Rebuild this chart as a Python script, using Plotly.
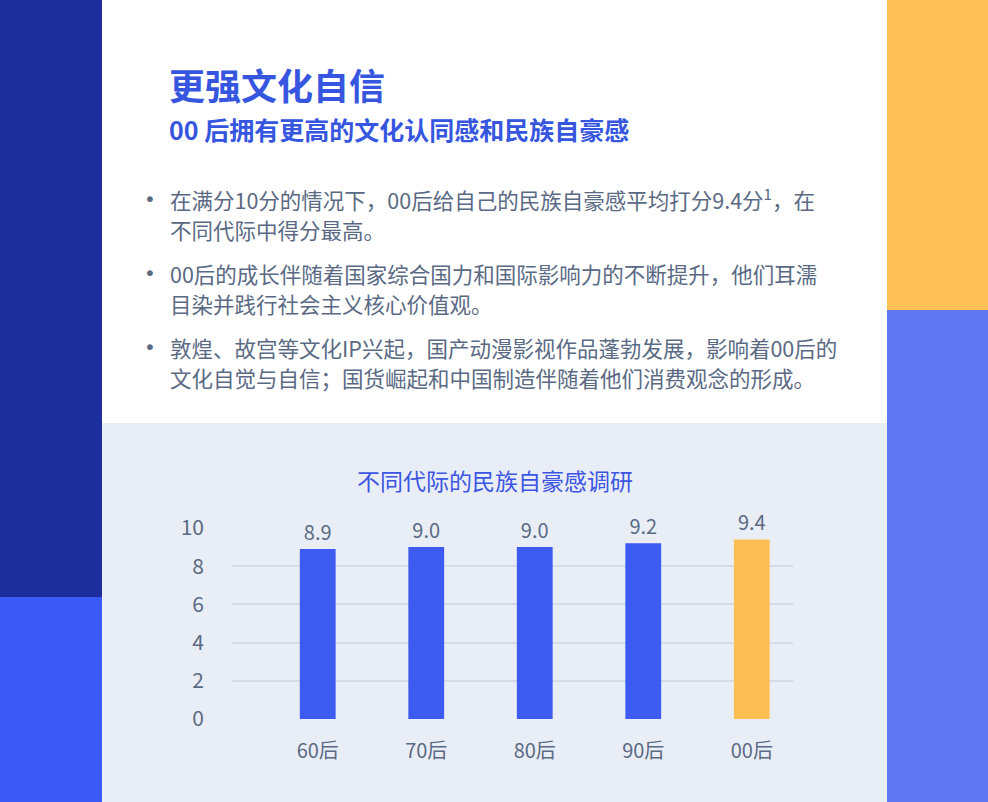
import plotly.graph_objects as go

# ---- data ----
categories = ["60后", "70后", "80后", "90后", "00后"]
scores = [8.9, 9.0, 9.0, 9.2, 9.4]
score_labels = ["8.9", "9.0", "9.0", "9.2", "9.4"]
bar_colors = ["#3d5af1", "#3d5af1", "#3d5af1", "#3d5af1", "#fdbf54"]
y_ticks = [0, 2, 4, 6, 8, 10]

title_main = "更强文化自信"
title_sub = "00 后拥有更高的文化认同感和民族自豪感"
bullets = [
    ["在满分10分的情况下，00后给自己的民族自豪感平均打分9.4分<sup>1</sup>，在", "不同代际中得分最高。"],
    ["00后的成长伴随着国家综合国力和国际影响力的不断提升，他们耳濡", "目染并践行社会主义核心价值观。"],
    ["敦煌、故宫等文化IP兴起，国产动漫影视作品蓬勃发展，影响着00后的", "文化自觉与自信；国货崛起和中国制造伴随着他们消费观念的形成。"],
]
chart_title = "不同代际的民族自豪感调研"

W, H = 988, 802
PL, PR, PT, PB = 232, 793, 528, 719  # plot area in pixels
FONT = "Noto Sans CJK SC"
BLUE_T = "#3656e0"
GRAY_T = "#5a6a84"

fig = go.Figure()
fig.add_trace(go.Bar(
    x=list(range(len(categories))), y=scores,
    marker=dict(color=bar_colors, line=dict(width=0)),
    width=0.33,
    text=score_labels, textposition="outside", cliponaxis=False,
    textfont=dict(family=FONT, size=20, color=GRAY_T),
    hoverinfo="skip",
))

def px(x):
    return (x - PL) / (PR - PL)

def py(y):
    return (PB - y) / (PB - PT)

def rect(x0, x1, y0, y1, color):
    return dict(type="rect", xref="paper", yref="paper", x0=px(x0), x1=px(x1), y0=py(y1), y1=py(y0),
                fillcolor=color, line=dict(width=0), layer="below")

shapes = [
    rect(0, 102, 0, 597, "#1e2d9c"),
    rect(0, 102, 597, 802, "#3b5af5"),
    rect(887, 988, 0, 310, "#fdc155"),
    rect(887, 988, 310, 802, "#6079f2"),
    rect(102, 887, 423, 802, "#e9eef6"),
]

annotations = [
    dict(text=f"<b>{title_main}</b>", x=px(167), y=py(84), xref="paper", yref="paper",
         xanchor="left", yanchor="middle", showarrow=False,
         font=dict(family=FONT, size=36, color=BLUE_T)),
    dict(text=f"<b>{title_sub}</b>", x=px(167), y=py(129), xref="paper", yref="paper",
         xanchor="left", yanchor="middle", showarrow=False,
         font=dict(family=FONT, size=25, color=BLUE_T)),
    dict(text=chart_title, x=px(495), y=py(480), xref="paper", yref="paper",
         xanchor="center", yanchor="middle", showarrow=False,
         font=dict(family=FONT, size=23, color="#3d55e3")),
]

bullet_y = [199, 273, 347]
for yy, lines in zip(bullet_y, bullets):
    annotations.append(dict(text="•", x=px(150), y=py(yy), xref="paper", yref="paper",
                            xanchor="center", yanchor="middle", showarrow=False,
                            font=dict(family="DejaVu Sans", size=20, color=GRAY_T)))
    for i, ln in enumerate(lines):
        annotations.append(dict(text=ln, x=px(168), y=py(yy + 30 * i), xref="paper", yref="paper",
                                xanchor="left", yanchor="middle", showarrow=False,
                                font=dict(family=FONT, size=21.5, color=GRAY_T)))

fig.update_layout(
    width=W, height=H, autosize=False,
    margin=dict(l=PL, r=W - PR, t=PT, b=H - PB, pad=0),
    paper_bgcolor="#ffffff", plot_bgcolor="rgba(0,0,0,0)",
    shapes=shapes, annotations=annotations, showlegend=False,
    xaxis=dict(
        tickmode="array", tickvals=list(range(len(categories))), ticktext=categories,
        range=[-0.79, 4.38], showgrid=False, zeroline=False, showline=False,
        tickfont=dict(family=FONT, size=20, color=GRAY_T), ticks="", ticklabelstandoff=18,
        fixedrange=True,
    ),
    yaxis=dict(
        range=[0, 10], tickmode="array", tickvals=y_ticks, ticktext=[str(v) for v in y_ticks],
        showgrid=True, gridcolor="#d4dbe7", gridwidth=2, zeroline=False, showline=False,
        tickfont=dict(family=FONT, size=21, color=GRAY_T), ticks="", ticklabelstandoff=27,
        fixedrange=True,
    ),
)

fig.write_html("out.html", config={"displayModeBar": False},
               post_script="document.body.style.margin='0px';document.body.style.overflow='hidden';")
